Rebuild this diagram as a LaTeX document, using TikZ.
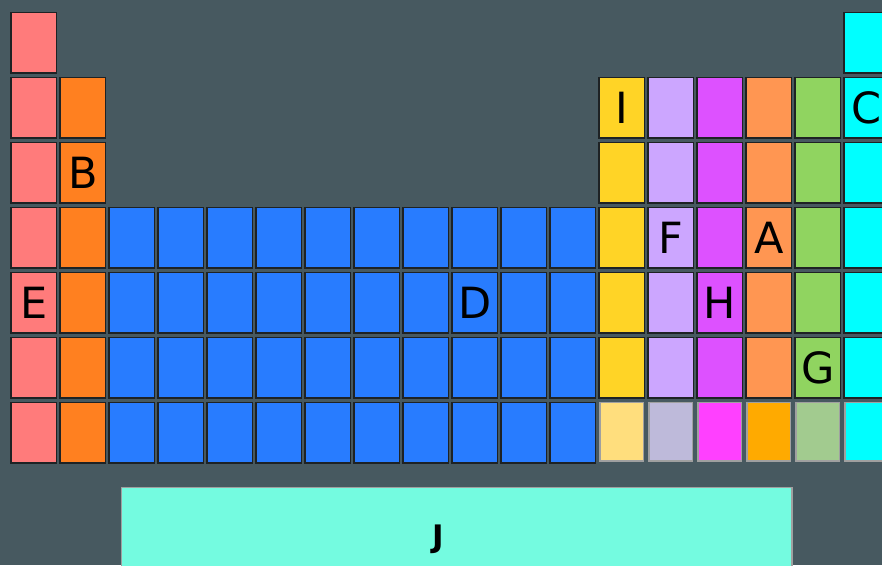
\documentclass[tikz,border=0pt]{standalone}
\usepackage{fontspec}
\setmainfont{DejaVu Sans}
\definecolor{bg}{RGB}{71,89,96}
\definecolor{cellborder}{RGB}{30,34,36}
\definecolor{lightborder}{RGB}{160,160,160}
\definecolor{c1}{RGB}{255,123,123}
\definecolor{c2}{RGB}{255,128,32}
\definecolor{cblue}{RGB}{40,124,255}
\colorlet{c3}{cblue}\colorlet{c4}{cblue}\colorlet{c5}{cblue}\colorlet{c6}{cblue}
\colorlet{c7}{cblue}\colorlet{c8}{cblue}\colorlet{c9}{cblue}\colorlet{c10}{cblue}
\colorlet{c11}{cblue}\colorlet{c12}{cblue}
\definecolor{c13}{RGB}{255,212,38}
\definecolor{c14}{RGB}{204,166,255}
\definecolor{c15}{RGB}{221,81,255}
\definecolor{c16}{RGB}{255,150,82}
\definecolor{c17}{RGB}{144,212,96}
\definecolor{c18}{RGB}{0,255,255}
\definecolor{l13}{RGB}{255,222,125}
\definecolor{l14}{RGB}{190,186,218}
\definecolor{l15}{RGB}{255,64,255}
\definecolor{l16}{RGB}{255,170,0}
\definecolor{l17}{RGB}{162,203,143}
\definecolor{l18}{RGB}{0,255,255}
\definecolor{jcol}{RGB}{116,251,224}
\begin{document}
\begin{tikzpicture}[x=1pt,y=-1pt,
  cellbox/.style={draw=cellborder, line width=1.7pt, minimum width=45.3pt, minimum height=60.3pt, inner sep=0pt, anchor=north west},
  lightbox/.style={draw=lightborder, line width=1.5pt, minimum width=43.5pt, minimum height=58.5pt, inner sep=0pt, anchor=north west},
  lbl/.style={inner sep=0pt, font=\fontsize{43}{43}\selectfont, text=black},
  jlbl/.style={inner sep=0pt, font=\bfseries\fontsize{31}{31}\selectfont, text=black}]
\useasboundingbox[fill=bg] (0,0) rectangle (882,565);
% row 1
\foreach \c in {1,18}
  \node[cellbox, fill=c\c] (cell-1-\c) at ({10.3+49*(\c-1)},11.5) {};
% rows 2-3
\foreach \r in {2,3}
  \foreach \c in {1,2,13,14,15,16,17,18}
    \node[cellbox, fill=c\c] (cell-\r-\c) at ({10.3+49*(\c-1)},{11.5+65*(\r-1)}) {};
% rows 4-6
\foreach \r in {4,5,6}
  \foreach \c in {1,...,18}
    \node[cellbox, fill=c\c] (cell-\r-\c) at ({10.3+49*(\c-1)},{11.5+65*(\r-1)}) {};
% row 7
\foreach \c in {1,...,12}
  \node[cellbox, fill=c\c] (cell-7-\c) at ({10.3+49*(\c-1)},401.5) {};
\foreach \c in {13,...,18}
  \node[lightbox, fill=l\c] (cell-7-\c) at ({11.3+49*(\c-1)},401.5) {};
% J block
\node[draw=lightborder, line width=1.5pt, fill=jcol, inner sep=0pt, anchor=north west,
  minimum width=670.5pt, minimum height=120pt] (jblock) at (120.75,486.75) {};
% labels
\node[lbl] (lI) at (cell-2-13.center) {I};
\node[lbl] (lC) at (cell-2-18.center) {C};
\node[lbl] (lB) at (cell-3-2.center) {B};
\node[lbl] (lF) at (cell-4-14.center) {F};
\node[lbl] (lA) at (cell-4-16.center) {A};
\node[lbl] (lE) at (cell-5-1.center) {E};
\node[lbl] (lD) at (cell-5-10.center) {D};
\node[lbl] (lH) at (cell-5-15.center) {H};
\node[lbl] (lG) at (cell-6-17.center) {G};
\node[jlbl] (lJ) at (438,539) {J};
\end{tikzpicture}
\end{document}
